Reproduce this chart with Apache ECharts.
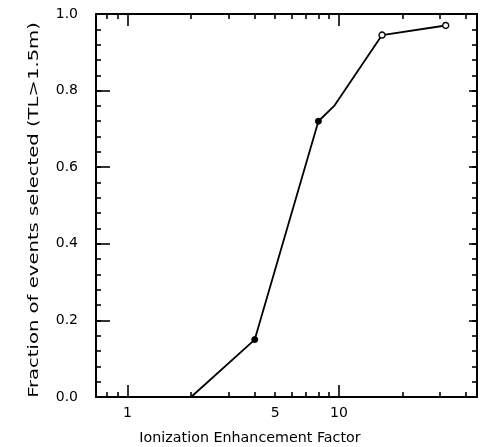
<!DOCTYPE html>
<html>
<head>
<meta charset="utf-8">
<script src="https://cdn.jsdelivr.net/npm/echarts@6/dist/echarts.min.js"></script>
<style>
html,body{margin:0;padding:0;background:#fff;}
#c{width:481px;height:447px;}
</style>
</head>
<body>
<div id="c"></div>
<script>
// Data
var enhancement = [2, 4, 8, 9.5, 16, 32];
var fraction = [0.0, 0.15, 0.72, 0.76, 0.945, 0.97];
var xLabelValues = [1, 5, 10];
var xMajorTicks = [1, 10];
var xMinorTicks = [0.8, 0.9, 2, 3, 4, 5, 6, 7, 8, 9, 20, 30, 40];
var xRange = [0.71, 45];
var xTitle = 'Ionization Enhancement Factor';
var yTitle = 'Fraction of events selected (TL>1.5m)';

var L = Math.log10;
var chart = echarts.init(document.getElementById('c'));
var fontFam = 'DejaVu Sans';
var black = '#000';

function xAxisDef(pos, ticks, len, showLine, labels) {
  return {
    type: 'value', position: pos, min: L(xRange[0]), max: L(xRange[1]),
    splitLine: {show: false},
    axisLine: {show: showLine, onZero: false, lineStyle: {color: black, width: 2}},
    axisTick: {show: true, inside: true, length: len, customValues: ticks.map(L), lineStyle: {color: black, width: 1.6}},
    axisLabel: labels ? {
      show: true, customValues: labels.map(L), margin: 9,
      fontFamily: fontFam, fontSize: 14, color: black,
      formatter: function (v) { return String(Math.round(Math.pow(10, v))); }
    } : {show: false}
  };
}
function yAxisDef(pos, interval, len, showLine, labels) {
  return {
    type: 'value', position: pos, min: 0, max: 1, interval: interval,
    splitLine: {show: false},
    axisLine: {show: showLine, onZero: false, lineStyle: {color: black, width: 2}},
    axisTick: {show: true, inside: true, length: len, lineStyle: {color: black, width: 1.6}},
    axisLabel: labels ? {
      show: true, margin: 18, fontFamily: fontFam, fontSize: 14, color: black,
      formatter: function (v) { return v.toFixed(1); }
    } : {show: false}
  };
}

var pts = enhancement.map(function (x, i) {
  var item = {value: [L(x), fraction[i]]};
  if (i === 1 || i === 2) {
    item.symbol = 'circle'; item.symbolSize = 6;
    item.itemStyle = {color: black, borderColor: black};
  } else if (i === 4 || i === 5) {
    item.symbol = 'circle'; item.symbolSize = 6;
    item.itemStyle = {color: '#fff', borderColor: black, borderWidth: 1.4};
  } else {
    item.symbol = 'none';
  }
  return item;
});

chart.setOption({
  animation: false,
  backgroundColor: '#fff',
  grid: {left: 96, right: 4, top: 14, bottom: 50, containLabel: false},
  xAxis: [
    xAxisDef('bottom', xMajorTicks, 12, true, xLabelValues),
    xAxisDef('bottom', xMinorTicks, 5, false, null),
    xAxisDef('top', xMajorTicks, 12, true, null),
    xAxisDef('top', xMinorTicks, 5, false, null)
  ],
  yAxis: [
    yAxisDef('left', 0.2, 14, true, true),
    yAxisDef('left', 0.04, 5, false, false),
    yAxisDef('right', 0.2, 8, true, false),
    yAxisDef('right', 0.04, 5, false, false)
  ],
  graphic: [
    {type: 'text', x: 250, y: 438, scaleX: 1.02,
     style: {text: xTitle, fontFamily: fontFam, fontSize: 14, fill: black, align: 'center', verticalAlign: 'middle'}},
    {type: 'text', x: 34, y: 210, rotation: Math.PI / 2, scaleX: 1.4,
     style: {text: yTitle, fontFamily: fontFam, fontSize: 14, fill: black, align: 'center', verticalAlign: 'middle'}}
  ],
  series: [{
    type: 'line', xAxisIndex: 0, yAxisIndex: 0,
    data: pts, showSymbol: true,
    lineStyle: {color: black, width: 1.8},
    itemStyle: {color: black}
  }]
});
</script>
</body>
</html>
